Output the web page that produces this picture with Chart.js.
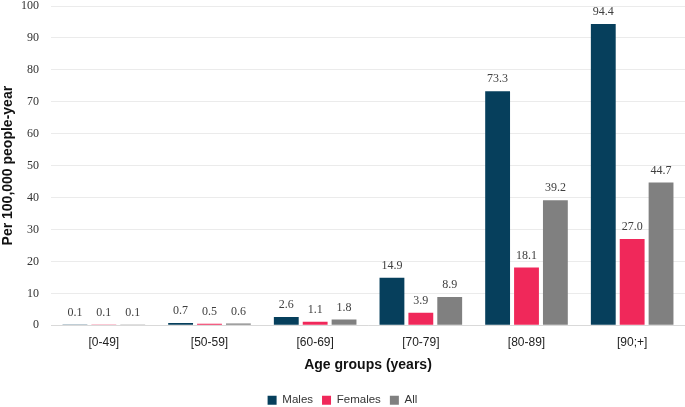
<!DOCTYPE html>
<html lang="en">
<head>
  <meta charset="UTF-8" />
  <title>Rates by age group</title>
  <script src="https://cdn.jsdelivr.net/npm/chart.js@4.4.1/dist/chart.umd.min.js"></script>
  <style>
    * { box-sizing: border-box; }
    html, body { margin: 0; padding: 0; background: #ffffff; }
    .wrap { width: 685px; height: 407px; position: relative; }
  </style>
</head>
<body>
  <div class="wrap"><canvas id="chart" width="685" height="407"></canvas></div>

  <script>
    // data
    const ageGroups = ["[0-49]", "[50-59]", "[60-69]", "[70-79]", "[80-89]", "[90;+]"];
    const males = [0.1, 0.7, 2.6, 14.9, 73.3, 94.4];
    const females = [0.1, 0.5, 1.1, 3.9, 18.1, 27.0];
    const allPeople = [0.1, 0.6, 1.8, 8.9, 39.2, 44.7];
    const yTicks = [0, 10, 20, 30, 40, 50, 60, 70, 80, 90, 100];

    const SERIF = "Liberation Serif";
    const SANS = "Liberation Sans";

    // value labels above each bar
    const barLabels = {
      id: "barLabels",
      afterDatasetsDraw(chart) {
        const ctx = chart.ctx;
        ctx.save();
        ctx.font = "12px " + SERIF;
        ctx.fillStyle = "#404040";
        ctx.textAlign = "center";
        ctx.textBaseline = "bottom";
        chart.data.datasets.forEach((ds, i) => {
          chart.getDatasetMeta(i).data.forEach((bar, j) => {
            ctx.fillText(ds.data[j].toFixed(1), bar.x, bar.y - 6);
          });
        });
        ctx.restore();
      }
    };

    new Chart(document.getElementById("chart"), {
      type: "bar",
      data: {
        labels: ageGroups,
        datasets: [
          { label: "Males", data: males, backgroundColor: "#063f5c" },
          { label: "Females", data: females, backgroundColor: "#f0285a" },
          { label: "All", data: allPeople, backgroundColor: "#808080" }
        ]
      },
      options: {
        responsive: false,
        animation: false,
        devicePixelRatio: 1,
        layout: { padding: { top: 0, right: 0, left: 0, bottom: -9 } },
        datasets: { bar: { categoryPercentage: 0.82, barPercentage: 0.86 } },
        plugins: {
          tooltip: { enabled: false },
          legend: {
            position: "bottom",
            labels: {
              boxWidth: 9,
              boxHeight: 9,
              padding: 9,
              color: "#333",
              font: { family: SANS, size: 11.5 }
            }
          }
        },
        scales: {
          x: {
            grid: { display: false, drawTicks: false },
            border: { color: "#d9d9d9" },
            ticks: {
              color: "#222",
              padding: 10,
              font: { family: SANS, size: 12 }
            },
            title: {
              display: true,
              text: "Age groups (years)",
              color: "#111",
              padding: { top: -3, bottom: 12 },
              font: { family: SANS, size: 14, weight: "bold" }
            }
          },
          y: {
            min: 0,
            max: 100,
            afterBuildTicks(axis) { axis.ticks = yTicks.map(v => ({ value: v })); },
            afterFit(axis) { axis.width = 51; },
            grid: { color: "#ebebeb", drawTicks: true, tickLength: 12, tickColor: "rgba(0,0,0,0)" },
            border: { display: false },
            ticks: {
              color: "#333",
              padding: 0,
              font: { family: SERIF, size: 12, lineHeight: 1 }
            },
            title: {
              display: true,
              text: "Per 100,000 people-year",
              color: "#111",
              padding: { top: 0, bottom: 0 },
              font: { family: SANS, size: 14, weight: "bold" }
            }
          }
        }
      },
      plugins: [barLabels]
    });
  </script>
</body>
</html>
